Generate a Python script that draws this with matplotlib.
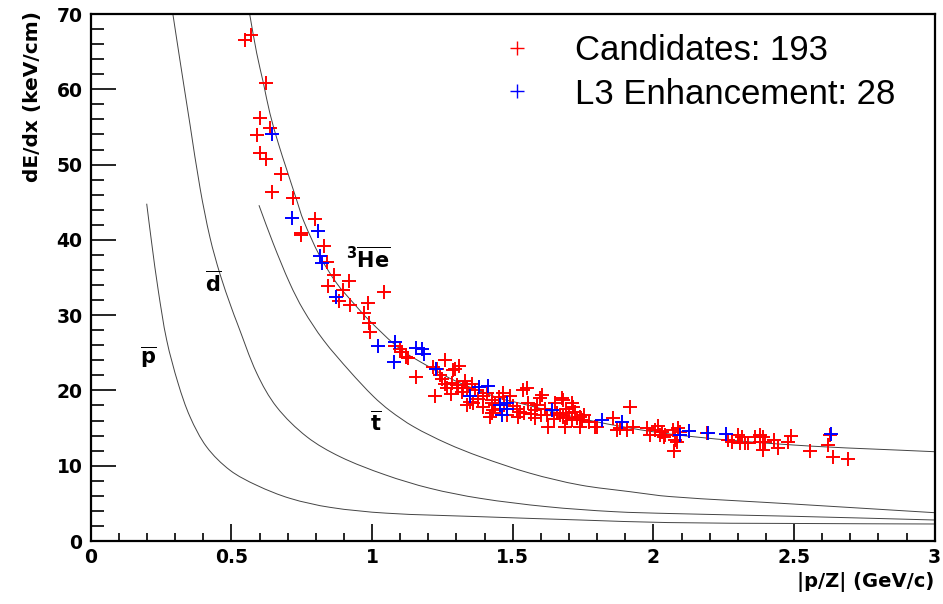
import matplotlib
matplotlib.use("Agg")
import numpy as np
import matplotlib.pyplot as plt
from matplotlib.ticker import MultipleLocator, FixedLocator
from matplotlib.lines import Line2D
from matplotlib.path import Path
from matplotlib.patches import PathPatch

plt.rcParams['font.family'] = ['Liberation Sans', 'DejaVu Sans']
plt.rcParams['mathtext.fontset'] = 'custom'
plt.rcParams['mathtext.rm'] = 'DejaVu Sans'
plt.rcParams['mathtext.bf'] = 'DejaVu Sans:bold'
plt.rcParams['mathtext.it'] = 'DejaVu Sans:italic'

# ---- data ----
red_x = [0.548, 0.570, 0.622, 0.602, 0.637, 0.590, 0.602, 0.623, 0.675, 0.645,
         0.720, 0.798, 0.746, 0.748, 0.829, 0.839, 0.866, 0.917, 0.842, 0.896,
         1.041, 0.883, 0.922, 0.985, 0.973, 0.990, 0.994, 1.082, 1.100, 1.105,
         1.121, 1.129, 1.157, 1.218, 1.260, 1.295, 1.310, 1.242, 1.230, 1.289,
         1.248, 1.259, 1.266, 1.301, 1.325, 1.337, 1.354, 1.331, 1.224, 1.280,
         1.337, 1.360, 1.348, 1.425, 1.431, 1.425, 1.453, 1.366, 1.396, 1.437,
         1.419, 1.467, 1.491, 1.455, 1.514, 1.526, 1.520, 1.538, 1.550, 1.580,
         1.580, 1.603, 1.597, 1.556, 1.621, 1.627, 1.674, 1.680, 1.710, 1.716,
         1.657, 1.668, 1.680, 1.692, 1.686, 1.728, 1.739, 1.745, 1.739, 1.710,
         1.793, 1.858, 1.917, 1.882, 1.905, 1.929, 1.977, 2.006, 2.018, 1.988,
         2.024, 2.036, 2.071, 2.089, 2.095, 2.041, 2.077, 2.083, 2.075, 2.190,
         2.267, 2.279, 2.302, 2.314, 2.308, 2.326, 2.338, 2.361, 2.379, 2.391,
         2.379, 2.397, 2.391, 2.427, 2.444, 2.480, 2.489, 2.557, 2.622, 2.638,
         2.693, 2.628, 1.307, 1.426, 1.470, 1.500, 1.540, 1.565, 1.600, 1.615,
         1.645, 1.700, 1.720, 1.755, 1.770, 1.650, 1.690, 1.585, 1.480, 1.395,
         1.375, 1.410, 1.320, 1.285, 1.870, 1.799, 1.658, 2.030]
red_y = [66.6, 67.2, 60.9, 56.2, 54.8, 53.9, 51.6, 50.8, 48.7, 46.4,
         45.6, 42.8, 40.6, 40.9, 39.2, 37.1, 35.3, 34.6, 33.9, 33.3,
         33.1, 31.9, 31.4, 31.6, 30.3, 29.0, 27.8, 25.9, 25.5, 25.1,
         24.5, 24.3, 21.8, 23.1, 24.0, 22.9, 23.3, 22.0, 22.8, 22.7,
         21.5, 20.9, 20.3, 20.7, 20.3, 20.3, 20.9, 21.3, 19.2, 19.5,
         18.1, 18.3, 18.5, 18.3, 17.4, 17.0, 19.1, 20.1, 19.2, 18.1,
         16.5, 19.6, 19.2, 17.6, 17.6, 17.2, 16.5, 20.1, 20.3, 17.4,
         16.3, 19.4, 19.0, 18.3, 16.7, 15.2, 19.0, 18.7, 18.3, 17.8,
         17.0, 16.7, 16.5, 16.3, 15.2, 16.3, 16.5, 16.1, 15.2, 16.1,
         15.2, 16.3, 17.8, 15.0, 14.7, 15.2, 15.0, 14.7, 15.3, 14.1,
         14.1, 13.85, 14.7, 15.0, 14.5, 14.1, 13.4, 13.2, 12.0, 14.3,
         13.4, 13.2, 14.1, 13.85, 13.0, 13.0, 13.0, 13.85, 14.1, 13.85,
         13.2, 13.2, 12.1, 13.4, 12.3, 13.2, 13.9, 12.0, 12.75, 11.2,
         10.85, 14.1, 20.3, 18.7, 18.0, 17.9, 17.0, 16.9, 16.8, 17.5,
         16.2, 17.0, 17.2, 16.8, 15.8, 18.3, 17.6, 18.0, 16.8, 17.8,
         18.8, 19.6, 19.8, 21.0, 14.7, 15.2, 17.0, 14.5]

blue_x = [0.643, 0.716, 0.808, 0.815, 0.821, 0.873, 1.022, 1.083, 1.079, 1.157,
          1.179, 1.185, 1.229, 1.348, 1.380, 1.412, 1.455, 1.479, 1.481, 1.461,
          1.639, 1.817, 1.888, 2.095, 2.128, 2.193, 2.257, 2.632]
blue_y = [54.1, 42.9, 41.2, 37.8, 36.9, 32.4, 25.9, 26.4, 23.8, 25.7,
          25.5, 24.8, 22.8, 19.2, 20.5, 20.6, 18.1, 18.3, 17.6, 16.8,
          17.4, 16.1, 15.8, 14.1, 14.65, 14.4, 14.2, 14.2]

pbar_x = [0.199, 0.217, 0.240, 0.270, 0.311, 0.353, 0.412, 0.495, 0.590, 0.708,
          0.851, 1.050, 1.384, 1.740, 2.050, 2.500, 3.000]
pbar_y = [44.8, 39.5, 33.3, 26.7, 20.9, 16.5, 12.5, 9.4, 7.4, 5.67,
          4.47, 3.70, 3.23, 2.79, 2.45, 2.33, 2.26]

dbar_x = [0.292, 0.317, 0.353, 0.389, 0.424, 0.460, 0.501, 0.519, 0.590,
          0.661, 0.768, 0.886, 1.046, 1.206, 1.384, 1.621, 1.858, 2.060, 2.500, 3.000]
dbar_y = [70.0, 63.9, 55.3, 46.8, 40.3, 35.4, 30.9, 29.1, 22.3,
          17.8, 13.85, 11.2, 8.8, 7.0, 5.67, 4.56, 3.9, 3.65, 3.28, 2.79]

tbar_x = [0.598, 0.649, 0.708, 0.756, 0.827, 0.922, 1.005, 1.064, 1.147, 1.266,
          1.384, 1.562, 1.739, 1.917, 2.060, 2.498, 3.000]
tbar_y = [44.6, 39.5, 34.2, 30.7, 26.7, 22.5, 19.2, 17.3, 15.2, 12.97,
          11.2, 9.0, 7.44, 6.55, 5.9, 4.91, 3.76]

he3_x = [0.565, 0.590, 0.614, 0.637, 0.667, 0.697, 0.732, 0.756, 0.815,
         0.875, 0.934, 0.990, 1.100, 1.200, 1.300, 1.450, 1.526, 1.763, 2.060,
         2.498, 3.000]
he3_y = [70.0, 64.8, 60.8, 56.8, 52.8, 49.3, 45.3, 42.6, 37.8,
         34.2, 31.6, 29.3, 25.5, 23.2, 21.2, 19.0, 18.3, 16.1, 14.2,
         12.75, 11.86]

x_ticks = [0, 0.5, 1, 1.5, 2, 2.5, 3]
x_tick_labels = ['0', '0.5', '1', '1.5', '2', '2.5', '3']
y_ticks = [0, 10, 20, 30, 40, 50, 60, 70]
y_tick_labels = ['0', '10', '20', '30', '40', '50', '60', '70']

legend_labels = ['Candidates: 193', 'L3 Enhancement: 28']

# ---- figure ----
fig = plt.figure(figsize=(9.43, 6.04), dpi=100)
ax = fig.add_axes([0.0962, 0.1043, 0.8950, 0.8725])
ax.set_xlim(0, 3)
ax.set_ylim(0, 70)


def smooth_curve(ax, xs, ys, **kw):
    """Draw a smooth line through the read points (Hermite / Catmull-Rom Bezier)."""
    pts = np.column_stack([xs, ys]).astype(float)
    disp = ax.transData.transform(pts)
    n = len(disp)
    t = np.concatenate([[0], np.cumsum(np.hypot(*np.diff(disp, axis=0).T))])
    tang = np.zeros_like(disp)
    for i in range(n):
        a, b = max(i - 1, 0), min(i + 1, n - 1)
        tang[i] = (disp[b] - disp[a]) / (t[b] - t[a])
    verts = [disp[0]]
    codes = [Path.MOVETO]
    for i in range(n - 1):
        h = t[i + 1] - t[i]
        verts += [disp[i] + tang[i] * h / 3, disp[i + 1] - tang[i + 1] * h / 3, disp[i + 1]]
        codes += [Path.CURVE4] * 3
    verts = ax.transData.inverted().transform(np.array(verts))
    ax.add_patch(PathPatch(Path(verts, codes), fill=False, transform=ax.transData, **kw))


curve_kw = dict(edgecolor='#444444', lw=0.7)
for cx, cy in [(pbar_x, pbar_y), (dbar_x, dbar_y), (tbar_x, tbar_y), (he3_x, he3_y)]:
    smooth_curve(ax, cx, cy, **curve_kw)

ms = 10
mew = 1.4
ax.plot(red_x, red_y, ls='none', marker='+', ms=ms, mew=mew, color='#ff0000', zorder=3)
ax.plot(blue_x, blue_y, ls='none', marker='+', ms=ms, mew=mew, color='#0000ff', zorder=4)

ax.xaxis.set_major_locator(FixedLocator(x_ticks))
ax.set_xticklabels(x_tick_labels)
ax.yaxis.set_major_locator(FixedLocator(y_ticks))
ax.set_yticklabels(y_tick_labels)
ax.xaxis.set_minor_locator(MultipleLocator(0.1))
ax.yaxis.set_minor_locator(MultipleLocator(2))

ax.tick_params(axis='both', which='both', direction='in', top=False, right=False,
               width=1.2, color='black')
ax.tick_params(axis='x', which='major', length=12, pad=5)
ax.tick_params(axis='x', which='minor', length=6)
ax.tick_params(axis='y', which='major', length=18, pad=6)
ax.tick_params(axis='y', which='minor', length=9)
for lab in ax.get_xticklabels() + ax.get_yticklabels():
    lab.set_family('DejaVu Sans')
    lab.set_fontweight('bold')
    lab.set_fontsize(13.5)
for sp in ax.spines.values():
    sp.set_linewidth(1.6)

fig.text(0.034, 0.982, 'dE/dx (keV/cm)', rotation=90, ha='center', va='top',
         fontsize=14.5, fontweight='bold', family='DejaVu Sans')
fig.text(0.991, 1 - 582 / 604, '|p/Z| (GeV/c)', ha='right', va='center',
         fontsize=14, fontweight='bold', family='DejaVu Sans')

# curve labels
lab_kw = dict(fontsize=15, ha='center', va='center')
ax.text(0.204, 24.4, r'$\mathbf{\overline{p}}$', **lab_kw)
ax.text(0.435, 34.2, r'$\mathbf{\overline{d}}$', **lab_kw)
ax.text(1.014, 15.7, r'$\mathbf{\overline{t}}$', **lab_kw)
ax.text(0.986, 37.4, r'$^{\mathbf{3}}\mathbf{\overline{He}}$', **lab_kw)

handles = [Line2D([], [], ls='none', marker='+', ms=ms, mew=1.0, color='#ff0000'),
           Line2D([], [], ls='none', marker='+', ms=ms, mew=1.0, color='#0000ff')]
leg = ax.legend(handles, legend_labels, loc='upper left',
                bbox_to_anchor=(499.6 / 943, 1 - 34.5 / 604), bbox_transform=fig.transFigure,
                frameon=False, fontsize=25, handlelength=1.0, handletextpad=1.17,
                borderpad=0, borderaxespad=0, labelspacing=0.29)

fig.savefig('out.png', dpi=100)
